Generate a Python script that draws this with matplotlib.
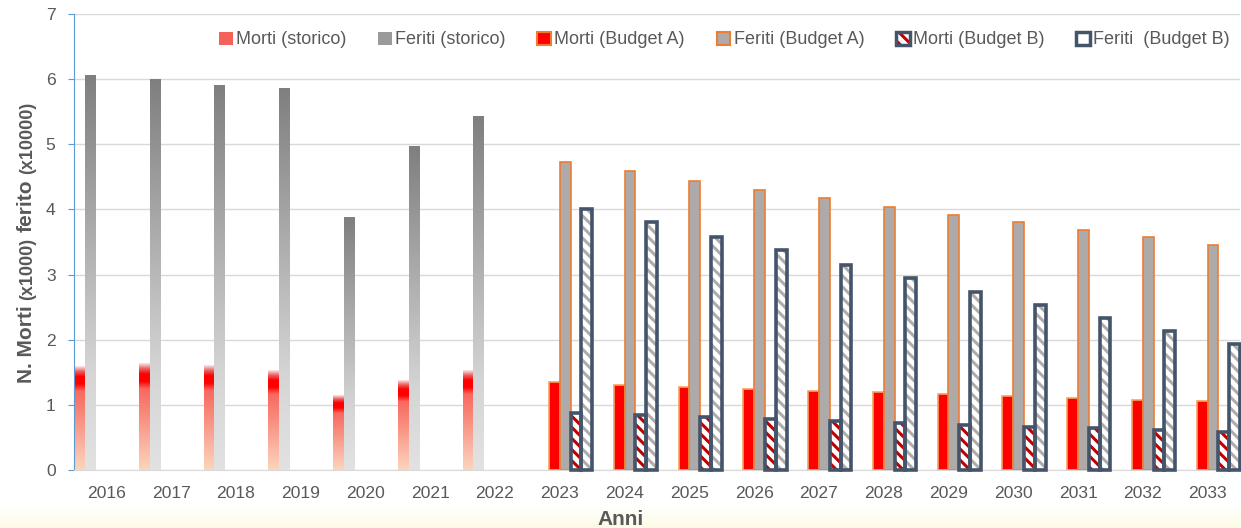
import numpy as np
import matplotlib
matplotlib.use("Agg")
from matplotlib import pyplot as plt
from matplotlib.colors import LinearSegmentedColormap
from matplotlib.patches import Patch

# dati (morti x1000, feriti x10000)
anni = [str(a) for a in range(2016, 2034)]
anni_storico = anni[:7]
anni_prev = anni[7:]
morti_storico = [1.59, 1.63, 1.61, 1.52, 1.15, 1.38, 1.52]
feriti_storico = [6.05, 5.99, 5.90, 5.86, 3.87, 4.96, 5.42]
morti_A = [1.35, 1.30, 1.27, 1.25, 1.22, 1.19, 1.16, 1.13, 1.11, 1.08, 1.06]
feriti_A = [4.73, 4.59, 4.44, 4.30, 4.17, 4.04, 3.92, 3.80, 3.68, 3.57, 3.46]
morti_B = [0.87, 0.84, 0.81, 0.78, 0.75, 0.72, 0.69, 0.66, 0.64, 0.61, 0.59]
feriti_B = [4.01, 3.80, 3.58, 3.38, 3.15, 2.95, 2.74, 2.54, 2.34, 2.13, 1.94]
etichette = ["Morti (storico)", "Feriti (storico)", "Morti (Budget A)",
             "Feriti (Budget A)", "Morti (Budget B)", "Feriti  (Budget B)"]

plt.rcParams['font.family'] = ['Liberation Sans', 'DejaVu Sans']
plt.rcParams['hatch.linewidth'] = 2.2

TXT = "#595959"
BLU = "#44546a"
RIGHE = '\\\\\\'

fig = plt.figure(figsize=(12.41, 5.28), dpi=100)
ax = fig.add_axes([74/1241, 1 - 470/528, 1166/1241, 456/528])

w = 1/6
pos = {a: i for i, a in enumerate(anni)}

rosso = LinearSegmentedColormap.from_list("rosso", [
    (0, "#fcd5bc"), (0.25, "#fab2a0"), (0.5, "#f88e7e"), (0.76, "#f86860"),
    (0.83, "#ff0000"), (0.9, "#ff0000"), (0.95, "#e86262"), (1, "#fbe6e6")])
grigio = LinearSegmentedColormap.from_list("grigio", [
    (0, "#e2e2e2"), (0.25, "#d5d5d5"), (0.5, "#b8b8b8"), (1, "#7f7f7f")])
grad = np.linspace(0, 1, 256).reshape(-1, 1)


def barra_sfumata(x0, h, cmap):
    ax.imshow(grad, cmap=cmap, extent=(x0, x0 + w, 0, h), origin="lower",
              aspect="auto", interpolation="bilinear", zorder=2)


for a, m, f in zip(anni_storico, morti_storico, feriti_storico):
    barra_sfumata(pos[a], m, rosso)
    barra_sfumata(pos[a] + w, f, grigio)

xs = np.array([pos[a] for a in anni_prev])
ax.bar(xs + 2*w, morti_A, w, align='edge', color='#ff0000',
       edgecolor='#f4a460', linewidth=1.2, zorder=2)
ax.bar(xs + 3*w, feriti_A, w, align='edge', color='#aeaaaa',
       edgecolor='#ed7d31', linewidth=1.2, zorder=2)
ax.bar(xs + 4*w, morti_B, w, align='edge', color='white',
       edgecolor='#c00000', hatch=RIGHE, linewidth=0, zorder=2)
ax.bar(xs + 5*w, feriti_B, w, align='edge', color='white',
       edgecolor='#b0acac', hatch=RIGHE, linewidth=0, zorder=2)
ax.bar(xs + 4*w, morti_B, w, align='edge', fill=False,
       edgecolor=BLU, linewidth=2.6, zorder=3, clip_on=False)
ax.bar(xs + 5*w, feriti_B, w, align='edge', fill=False,
       edgecolor=BLU, linewidth=2.6, zorder=3, clip_on=False)

ax.set_xlim(0, len(anni))
ax.set_ylim(0, 7)
ax.set_xticks(np.arange(len(anni)) + 0.5)
ax.set_xticklabels(anni)
ax.set_yticks(range(8))
ax.yaxis.grid(True, color='#d9d9d9', linewidth=1)
ax.set_axisbelow(True)
for s in ['top', 'right']:
    ax.spines[s].set_visible(False)
ax.spines['left'].set_color('#5b9bd5')
ax.spines['bottom'].set_color('#d9d9d9')
ax.tick_params(axis='x', length=0, pad=11.5, labelsize=12.6, labelcolor=TXT)
ax.tick_params(axis='y', length=4.3, color='#5b9bd5', pad=9,
               labelsize=12.6, labelcolor=TXT)

# etichetta asse y con dimensioni miste
t1 = fig.text(0.029, 1 - 383/528, "N. Morti", rotation=90, ha='right',
              va='bottom', fontsize=15, fontweight='bold', color=TXT)
t2 = ax.annotate("(x1000)", xy=(1, 1), xycoords=t1, xytext=(0, 4),
                 textcoords='offset points', rotation=90, ha='right',
                 va='bottom', fontsize=13, fontweight='bold', color=TXT)
t3 = ax.annotate("ferito", xy=(1, 1), xycoords=t2, xytext=(0, 4),
                 textcoords='offset points', rotation=90, ha='right',
                 va='bottom', fontsize=15, fontweight='bold', color=TXT)
ax.annotate("(x10000)", xy=(1, 1), xycoords=t3, xytext=(0, 4),
            textcoords='offset points', rotation=90, ha='right',
            va='bottom', fontsize=13, fontweight='bold', color=TXT)

fig.text(0.5, 1 - 525/528, "Anni", ha='center', va='baseline',
         fontsize=15, fontweight='bold', color=TXT)

maniglie = [
    Patch(facecolor='#f4625a', edgecolor='none'),
    Patch(facecolor='#9a9a9a', edgecolor='none'),
    Patch(facecolor='#ff0000', edgecolor='#ed7d31', linewidth=1.5),
    Patch(facecolor='#aeaaaa', edgecolor='#ed7d31', linewidth=1.5),
    (Patch(facecolor='white', edgecolor='#c00000', hatch=RIGHE, linewidth=0),
     Patch(fill=False, edgecolor=BLU, linewidth=2.5)),
    Patch(facecolor='white', edgecolor=BLU, linewidth=2.5),
]
fig.legend(maniglie, etichette, ncol=6, loc='center right',
           bbox_to_anchor=(1230/1241, 1 - 40/528), frameon=False,
           fontsize=13, handlelength=0.75, handleheight=0.75,
           handletextpad=0.2, columnspacing=1.75, borderpad=0,
           borderaxespad=0, labelcolor=TXT)

# leggera banda crema in basso
band = fig.add_axes([0, 0, 1, 24/528], zorder=-1)
band.imshow(np.linspace(0, 1, 64).reshape(-1, 1), origin='upper', aspect='auto',
            cmap=LinearSegmentedColormap.from_list("crema", ["#ffffff", "#fdfbe6"]))
band.axis('off')

fig.savefig("out.png", dpi=100)
